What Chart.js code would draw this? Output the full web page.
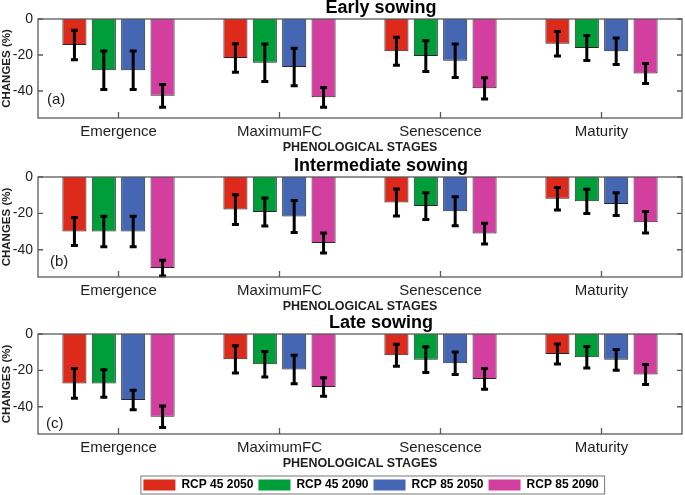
<!DOCTYPE html>
<html>
<head>
<meta charset="utf-8">
<script src="https://cdn.jsdelivr.net/npm/chart.js@4.4.1/dist/chart.umd.min.js"></script>
<style>
  html, body { margin: 0; padding: 0; background: #fff; }
  body { width: 685px; height: 495px; position: relative; overflow: hidden; }
  canvas { position: absolute; left: 0; }
</style>
</head>
<body>
<canvas id="early" width="685" height="155" style="top:0px"></canvas>
<canvas id="intermediate" width="685" height="156" style="top:158px"></canvas>
<canvas id="late" width="685" height="186" style="top:315px"></canvas>
<script>
const stages = ['Emergence', 'MaximumFC', 'Senescence', 'Maturity'];
const scenarios = ['RCP 45 2050', 'RCP 45 2090', 'RCP 85 2050', 'RCP 85 2090'];
const yTicks = [0, -20, -40];

// mean change (%), one row per scenario, one column per stage
const earlyMeans = [
  [-14.4, -21.7, -17.9, -13.7],
  [-28.5, -24.3, -20.6, -16.1],
  [-28.5, -26.7, -23.2, -17.9],
  [-42.7, -43.5, -38.5, -30.3]
];
const earlyErrors = [
  [8.2, 7.9, 7.8, 6.8],
  [10.7, 10.4, 8.5, 7.0],
  [10.7, 10.4, 9.3, 7.4],
  [6.3, 5.5, 5.9, 5.6]
];

const intermediateMeans = [
  [-30.0, -17.9, -14.0, -12.0],
  [-30.0, -19.2, -16.0, -13.4],
  [-30.0, -21.7, -18.8, -14.9],
  [-50.1, -36.3, -31.1, -24.9]
];
const intermediateErrors = [
  [7.7, 8.2, 7.4, 6.2],
  [8.4, 7.7, 7.4, 6.7],
  [8.4, 8.8, 8.0, 6.3],
  [4.3, 5.5, 5.7, 5.9]
];

const lateMeans = [
  [-27.2, -13.9, -11.7, -11.0],
  [-27.2, -16.6, -14.1, -12.8],
  [-36.3, -19.5, -16.1, -14.2],
  [-45.5, -29.2, -24.7, -22.3]
];
const lateErrors = [
  [8.2, 7.5, 6.0, 5.5],
  [7.6, 7.0, 7.1, 5.9],
  [5.3, 7.8, 6.2, 5.7],
  [5.9, 5.1, 5.7, 5.5]
];

const scenarioColors = ['#dd2a1b', '#009e3a', '#4566b2', '#d33f9e'];
const textColor = '#1e1e1e';
const fontFamily = "'Liberation Sans', Arial, Helvetica, sans-serif";

Chart.defaults.font.family = fontFamily;
Chart.defaults.color = textColor;

// error bars, matlab style box with inward ticks, panel title and tag
const panelDecor = {
  id: 'panelDecor',
  afterDatasetsDraw(chart, args, opts) {
    const { ctx, chartArea: a, scales: { x, y } } = chart;
    ctx.save();

    ctx.strokeStyle = '#000';
    ctx.lineWidth = 3;
    chart.data.datasets.forEach((ds, i) => {
      chart.getDatasetMeta(i).data.forEach((bar, j) => {
        const hi = y.getPixelForValue(ds.data[j] + ds.errors[j]);
        const lo = y.getPixelForValue(ds.data[j] - ds.errors[j]);
        ctx.beginPath();
        ctx.moveTo(bar.x, hi); ctx.lineTo(bar.x, lo);
        ctx.moveTo(bar.x - 3.5, hi); ctx.lineTo(bar.x + 3.5, hi);
        ctx.moveTo(bar.x - 3.5, lo); ctx.lineTo(bar.x + 3.5, lo);
        ctx.stroke();
      });
    });

    ctx.strokeStyle = '#5a5a5a';
    ctx.lineWidth = 1.3;
    ctx.strokeRect(a.left, a.top, a.width, a.height);
    ctx.beginPath();
    yTicks.forEach(v => {
      const py = y.getPixelForValue(v);
      ctx.moveTo(a.left, py); ctx.lineTo(a.left + 5, py);
      ctx.moveTo(a.right, py); ctx.lineTo(a.right - 5, py);
    });
    x.ticks.forEach((t, i) => {
      const px = x.getPixelForTick(i);
      ctx.moveTo(px, a.bottom); ctx.lineTo(px, a.bottom - 6);
    });
    ctx.stroke();

    ctx.fillStyle = '#000';
    ctx.font = 'bold 18px ' + fontFamily;
    ctx.textAlign = 'center';
    ctx.textBaseline = 'alphabetic';
    ctx.fillText(opts.title, (a.left + a.right) / 2 + 21, a.top - 6);

    ctx.fillStyle = textColor;
    ctx.font = '15px ' + fontFamily;
    ctx.textAlign = 'left';
    ctx.textBaseline = 'middle';
    ctx.fillText(opts.tag, opts.tagX, a.bottom - opts.tagDy);
    ctx.restore();
  }
};

// nudge the legend right and draw a frame round it
const legendFrame = {
  id: 'legendFrame',
  afterLayout(chart) {
    if (chart.options.plugins.legend.display) {
      chart.legend.left += 11;
      chart.legend.right += 11;
    }
  },
  afterDraw(chart) {
    if (!chart.options.plugins.legend.display) return;
    const boxes = chart.legend.legendHitBoxes;
    if (!boxes.length) return;
    const first = boxes[0];
    const last = boxes[boxes.length - 1];
    const { ctx } = chart;
    ctx.save();
    ctx.strokeStyle = '#777';
    ctx.lineWidth = 1;
    const left = first.left - 2.5;
    const right = last.left + last.width + 6;
    ctx.strokeRect(left, first.top - 3, right - left, first.height + 6);
    ctx.restore();
  }
};

function makePanel(id, title, tag, means, errors, layout) {
  const datasets = scenarios.map((name, i) => ({
    label: name,
    data: means[i],
    errors: errors[i],
    backgroundColor: scenarioColors[i],
    borderColor: '#262626',
    borderWidth: 1,
    categoryPercentage: 0.73,
    barPercentage: 0.82
  }));

  return new Chart(document.getElementById(id), {
    type: 'bar',
    data: { labels: stages, datasets },
    plugins: [panelDecor, legendFrame],
    options: {
      responsive: false,
      animation: false,
      events: [],
      layout: { padding: { top: 19, right: 3, left: 0, bottom: 0 } },
      plugins: {
        tooltip: { enabled: false },
        legend: layout.legend ? {
          display: true,
          position: 'bottom',
          fullSize: false,
          align: 'center',
          labels: {
            boxWidth: 32,
            boxHeight: 11,
            padding: 5,
            color: '#000',
            font: { size: 12, weight: 'bold' },
            generateLabels: c => c.data.datasets.map((ds, i) => ({
              text: ds.label,
              fillStyle: ds.backgroundColor,
              strokeStyle: ds.backgroundColor,
              lineWidth: 0,
              hidden: false,
              datasetIndex: i
            }))
          }
        } : { display: false },
        panelDecor: { title, tag, tagX: layout.tagX, tagDy: layout.tagDy }
      },
      scales: {
        x: {
          grid: { display: false, drawTicks: false },
          border: { display: false },
          ticks: { padding: 5, color: textColor, font: { size: 15 } },
          title: {
            display: true,
            text: 'PHENOLOGICAL STAGES',
            color: textColor,
            font: { size: 12.5, weight: 'bold', lineHeight: 1 },
            padding: { top: 0, bottom: layout.titlePad }
          },
          afterFit: s => { s.height = layout.xHeight; }
        },
        y: {
          min: -55,
          max: 0,
          grid: { display: false, drawTicks: false },
          border: { display: false },
          afterBuildTicks: s => { s.ticks = yTicks.map(v => ({ value: v })); },
          ticks: { padding: 5, color: textColor, font: { size: 14 } },
          title: {
            display: true,
            text: 'CHANGES (%)',
            color: textColor,
            font: { size: 11.5, weight: 'bold' },
            padding: 0
          },
          afterFit: s => { s.width = 38; }
        }
      }
    }
  });
}

makePanel('early', 'Early sowing', '(a)', earlyMeans, earlyErrors,
  { xHeight: 37, titlePad: 1, tagX: 47, tagDy: 18, legend: false });
makePanel('intermediate', 'Intermediate sowing', '(b)', intermediateMeans, intermediateErrors,
  { xHeight: 37, titlePad: 1, tagX: 50, tagDy: 15, legend: false });
makePanel('late', 'Late sowing', '(c)', lateMeans, lateErrors,
  { xHeight: 40, titlePad: 4, tagX: 46, tagDy: 10, legend: true });
</script>
</body>
</html>
